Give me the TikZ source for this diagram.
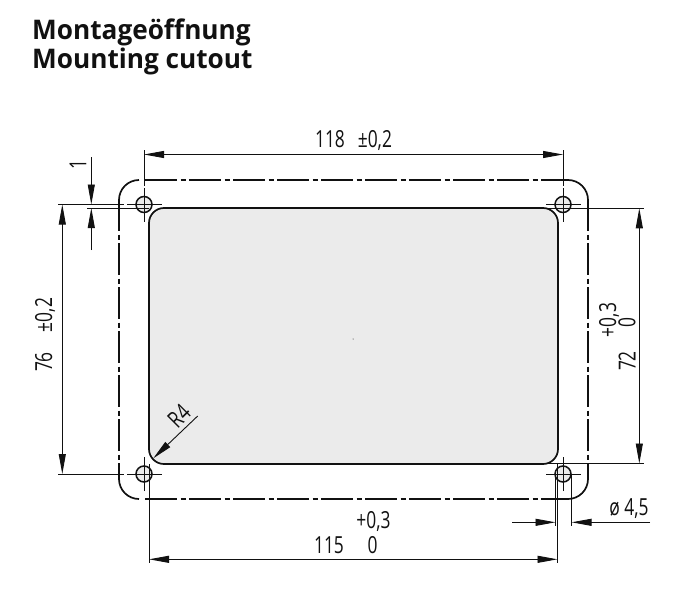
\documentclass[tikz,border=0pt]{standalone}
\usepackage{fontspec}
\usetikzlibrary{arrows.meta}
\newfontfamily\dimfont[FakeStretch=0.74]{Open Sans}
\newfontfamily\titlefont[FakeStretch=0.97]{Open Sans}
\definecolor{plate}{HTML}{EBEBEB}
\definecolor{ink}{HTML}{111111}
\tikzset{
  thin line/.style={draw=ink,line width=0.9pt},
  edge line/.style={draw=ink,line width=1.7pt},
  dashdot/.style={edge line,dash pattern=on 32pt off 3.5pt on 5pt off 3.5pt},
  dim/.style={thin line,{Triangle[length=20pt,width=7pt]}-{Triangle[length=20pt,width=7pt]}},
  dimout/.style={thin line,-{Triangle[length=20pt,width=7pt]}},
  holeshape/.style={circle,draw=ink,line width=1.5pt,fill=plate,minimum size=16pt,inner sep=0pt},
  dimtext/.style={inner sep=0pt,text=ink,font=\dimfont\fontsize{23.5}{23.5}\selectfont},
  titletext/.style={inner sep=0pt,anchor=base west,text=ink,font=\titlefont\bfseries\fontsize{27}{27}\selectfont},
}
\begin{document}
\begin{tikzpicture}[x=1pt,y=-1pt]
\useasboundingbox (0,0) rectangle (684,599);
% titles
\node[titletext] (t1) at (32,40) {Montageöffnung};
\node[titletext] (t2) at (32,69) {Mounting cutout};
% outer outline
\draw[edge line] (119,200) arc[start angle=180,end angle=90,x radius=20,y radius=-20];
\draw[edge line] (568,180) arc[start angle=90,end angle=0,x radius=20,y radius=-20];
\draw[edge line] (588,479) arc[start angle=0,end angle=-90,x radius=20,y radius=-20];
\draw[edge line] (139,499) arc[start angle=270,end angle=180,x radius=20,y radius=-20];
\draw[dashdot] (145,180) -- (568,180);
\draw[dashdot] (145,499) -- (568,499);
\draw[dashdot,dash phase=1pt] (119,200) -- (119,479);
\draw[dashdot,dash phase=1pt] (588,200) -- (588,479);
% cutout
\draw[edge line,fill=plate,rounded corners=15pt] (149,208) rectangle (558,464);
\fill[ink] (353,339) circle (0.5pt);
% holes
\node[holeshape] (h1) at (144,204.5) {};
\node[holeshape] (h2) at (563,204.5) {};
\node[holeshape] (h3) at (144,474) {};
\node[holeshape] (h4) at (563,474) {};
% centre lines
\foreach \h in {h1,h2,h3,h4}{
  \draw[thin line] ([xshift=-17pt]\h.center) -- ([xshift=18pt]\h.center);
  \draw[thin line] ([yshift=-17pt]\h.center) -- ([yshift=17pt]\h.center);
}
% extension lines
\draw[thin line] (144,150) -- (144,186);
\draw[thin line] (563,150) -- (563,186);
\draw[thin line] (58,204.5) -- (124,204.5);
\draw[thin line] (58,474) -- (124,474);
\draw[thin line] (87,208) -- (149,208);
\draw[thin line] (548,208.3) -- (644,208.3);
\draw[thin line] (547,463.5) -- (644,463.5);
\draw[thin line] (149,464) -- (149,563);
\draw[thin line] (557.5,464) -- (557.5,563);
\draw[thin line] (555.5,474) -- (555.5,526);
\draw[thin line] (571.5,474) -- (571.5,526);
% dimensions
\coordinate (topL) at (144,154.5); \coordinate (topR) at (563,154.5);
\draw[dim] (topL) -- (topR);
\coordinate (leftT) at (62.3,204.5); \coordinate (leftB) at (62.3,474);
\draw[dim] (leftT) -- (leftB);
\coordinate (rightT) at (639.3,208.3); \coordinate (rightB) at (639.3,463.5);
\draw[dim] (rightT) -- (rightB);
\coordinate (botL) at (149,559.3); \coordinate (botR) at (557.5,559.3);
\draw[dim] (botL) -- (botR);
\coordinate (oneA) at (91.3,157); \coordinate (oneB) at (91.3,204.5);
\coordinate (oneC) at (91.3,250); \coordinate (oneD) at (91.3,208);
\draw[dimout] (oneA) -- (oneB);
\draw[dimout] (oneC) -- (oneD);
\coordinate (diaA) at (512,522.3); \coordinate (diaB) at (555.5,522.3);
\coordinate (diaC) at (650,522.3); \coordinate (diaD) at (571.5,522.3);
\draw[dimout] (diaA) -- (diaB);
\draw[dimout] (diaC) -- (diaD);
\coordinate (rA) at (197.7,416); \coordinate (rB) at (153.3,458.3);
\draw[thin line,-{Triangle[length=20pt,width=7pt]}] (rA) -- (rB);
% labels
\node[dimtext] (l118) at (353.5,140) {118\hspace{0.55em}±0,2};
\node[dimtext,rotate=90] (l76) at (45,335) {76\hspace{0.85em}±0,2};
\node[dimtext,rotate=90] (l1) at (78,164.5) {1};
\node[dimtext,rotate=90] (l72) at (627,361) {72};
\node[dimtext,rotate=90] (l03) at (609,320) {+0,3};
\node[dimtext,rotate=90] (l0) at (627,322.5) {0};
\node[dimtext,rotate=45] (lR) at (179,416) {R4};
\node[dimtext] (l03b) at (373.5,521) {+0,3};
\node[dimtext] (l115) at (329,545) {115};
\node[dimtext] (l0b) at (372.5,545) {0};
\node[dimtext] (ld) at (629,509) {ø 4,5};
\end{tikzpicture}
\end{document}
